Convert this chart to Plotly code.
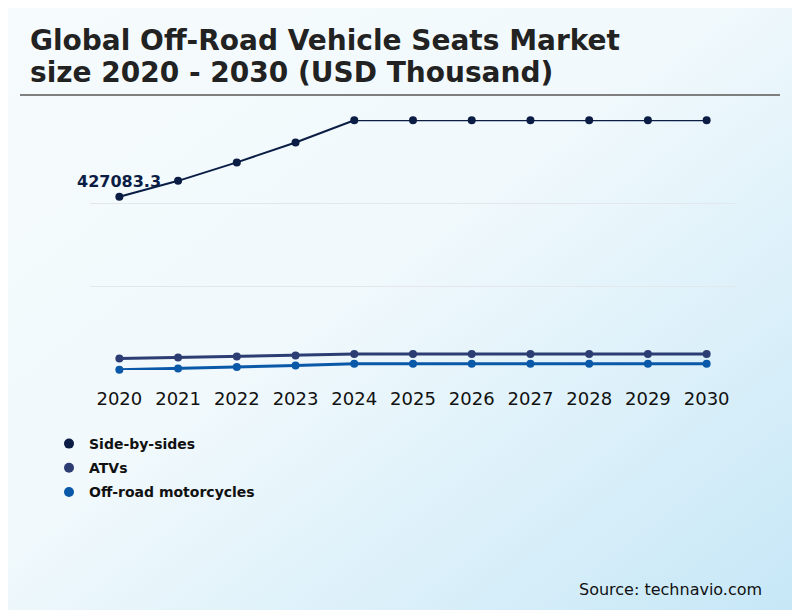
import base64
import plotly.graph_objects as go

years = ["2020", "2021", "2022", "2023", "2024", "2025", "2026", "2027", "2028", "2029", "2030"]
side_by_sides = [427083.3, 463000, 504700, 549700, 600000, 600000, 600000, 600000, 600000, 600000, 600000]
atvs = [61500, 63700, 66000, 68300, 71400, 71400, 71400, 71400, 71400, 71400, 71400]
motorcycles = [36000, 38900, 42100, 45700, 49500, 49500, 49500, 49500, 49500, 49500, 49500]

series = [
    ("Side-by-sides", side_by_sides, "#0b1d45", 2),
    ("ATVs", atvs, "#2c3d73", 3),
    ("Off-road motorcycles", motorcycles, "#0a58a8", 3),
]

y_min, y_max = 36000, 600000
grid_vals = [y_min + i * (y_max - y_min) / 3 for i in range(4)]
pad = 500  # keeps the edge gridlines drawn

# page body adds an 8px margin, so the figure is drawn 8px in from the corner
OFF = 8
FW, FH = 800 - OFF, 610 - OFF

# diagonal background gradient as an svg image
svg = (
    '<svg xmlns="http://www.w3.org/2000/svg" width="800" height="610">'
    '<defs><linearGradient id="g" x1="0" y1="0" x2="1" y2="1">'
    '<stop offset="0" stop-color="#f6fbfd"/>'
    '<stop offset="0.45" stop-color="#f1f9fc"/>'
    '<stop offset="1" stop-color="#c6e7f7"/>'
    '</linearGradient></defs>'
    '<rect width="800" height="610" fill="url(#g)"/></svg>'
)
bg_src = "data:image/svg+xml;base64," + base64.b64encode(svg.encode()).decode()

fig = go.Figure()
for name, vals, color, width in series:
    fig.add_trace(go.Scatter(
        x=years, y=vals, mode="lines+markers", name=name,
        line=dict(color=color, width=width),
        marker=dict(color=color, size=8),
        cliponaxis=False, showlegend=False,
    ))
    # legend entry with just the dot
    fig.add_trace(go.Scatter(
        x=[None], y=[None], mode="markers", name=name, legendgroup=name,
        marker=dict(color=color, size=10),
    ))

# plot area in screen px: x 90..736, y 120..370
L, R, T, B = 90 - OFF, 736 - OFF, 120 - OFF, 370 - OFF
W, H = R - L, B - T


def px(x):
    return (x - OFF - L) / W


def py(y):
    return (B - (y - OFF)) / H


fig.add_annotation(x=0, y=side_by_sides[0], text="<b>427083.3</b>",
                   showarrow=False, yshift=15, font=dict(size=16, color="#0b1d45"))

title_lines = ["Global Off-Road Vehicle Seats Market", "size 2020 - 2030 (USD Thousand)"]
for i, line in enumerate(title_lines):
    fig.add_annotation(xref="paper", yref="paper", x=px(28), y=py(41 + 31 * i),
                       xanchor="left", yanchor="middle", showarrow=False,
                       text="<b>" + line + "</b>",
                       font=dict(size=28, color="#222222", family="DejaVu Sans"))

fig.add_annotation(xref="paper", yref="paper", x=px(764), y=py(589),
                   xanchor="right", yanchor="middle", showarrow=False,
                   text="Source: technavio.com",
                   font=dict(size=16, color="#111111", family="DejaVu Sans"))

fig.add_shape(type="line", xref="paper", yref="paper",
              x0=px(20), x1=px(780), y0=py(95), y1=py(95),
              line=dict(color="#7f7f7f", width=2))

fig.add_layout_image(source=bg_src, xref="paper", yref="paper",
                     x=px(0), y=py(0), sizex=800 / W, sizey=610 / H,
                     xanchor="left", yanchor="top", sizing="stretch", layer="below")

fig.update_layout(
    width=FW, height=FH,
    margin=dict(l=L, r=FW - R, t=T, b=FH - B),
    paper_bgcolor="white", plot_bgcolor="rgba(0,0,0,0)",
    font=dict(family="DejaVu Sans", color="#000000"),
    showlegend=True,
    legend=dict(x=px(49), y=py(428), xanchor="left", yanchor="top",
                bgcolor="rgba(0,0,0,0)", tracegroupgap=3,
                font=dict(size=14, color="#111111", family="DejaVu Sans", weight="bold")),
)
fig.update_xaxes(type="category", range=[-0.5, 10.5], showgrid=False, showline=False,
                 zeroline=False, ticks="", tickfont=dict(size=18, color="#111111"),
                 ticklabelstandoff=16)
fig.update_yaxes(range=[y_min - pad, y_max + pad], tickvals=grid_vals, showticklabels=False,
                 showgrid=True, gridcolor="#e3e6ea", gridwidth=1, zeroline=False,
                 showline=False)

fig.write_html("out.html")
